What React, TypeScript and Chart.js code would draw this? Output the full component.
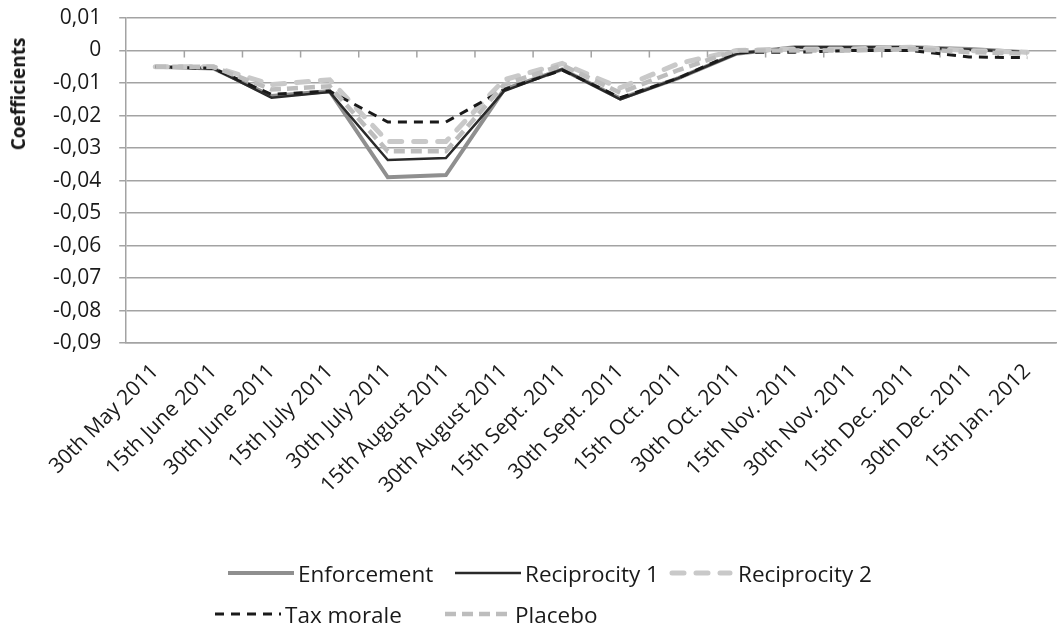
import React, { useEffect, useRef } from 'react';
import { Chart, registerables } from 'chart.js';

Chart.register(...registerables);

// ---- data ----
const categories = [
  '30th May 2011', '15th June 2011', '30th June 2011', '15th July 2011',
  '30th July 2011', '15th August 2011', '30th August 2011', '15th Sept. 2011',
  '30th Sept. 2011', '15th Oct. 2011', '30th Oct. 2011', '15th Nov. 2011',
  '30th Nov. 2011', '15th Dec. 2011', '30th Dec. 2011', '15th Jan. 2012',
];

const enforcement = [-0.005, -0.0055, -0.014, -0.0125, -0.039, -0.0383, -0.012, -0.0058, -0.0148, -0.0085, -0.001, 0.001, 0.001, 0.001, 0.0005, -0.0005];
const reciprocity1 = [-0.005, -0.0055, -0.0145, -0.0128, -0.0337, -0.0331, -0.0125, -0.0058, -0.015, -0.0085, -0.001, 0.001, 0.001, 0.001, 0.0003, -0.0005];
const reciprocity2 = [-0.005, -0.005, -0.0105, -0.009, -0.028, -0.028, -0.009, -0.004, -0.0115, -0.004, 0.0, 0.0005, 0.0005, 0.001, 0.0, -0.0005];
const taxMorale = [-0.005, -0.0055, -0.0135, -0.0125, -0.022, -0.022, -0.012, -0.006, -0.0145, -0.0085, -0.0005, -0.0005, 0.0, 0.0, -0.002, -0.0022];
const placebo = [-0.005, -0.005, -0.012, -0.011, -0.031, -0.031, -0.0105, -0.0045, -0.013, -0.006, 0.0, 0.0, 0.0, 0.0005, -0.0005, -0.001];

const seriesNames = ['Enforcement', 'Reciprocity 1', 'Reciprocity 2', 'Tax morale', 'Placebo'];
const seriesValues = [enforcement, reciprocity1, reciprocity2, taxMorale, placebo];

const yMin = -0.09;
const yMax = 0.01;
const yStep = 0.01;
const yTitle = 'Coefficients';

// ---- styles ----
const styles = [
  { color: '#8f8f8f', width: 4, dash: [] as number[], cap: 'butt' },
  { color: '#2a2a2a', width: 2.5, dash: [] as number[], cap: 'butt' },
  { color: '#c9c9c9', width: 5, dash: [12, 12], cap: 'round' },
  { color: '#1a1a1a', width: 3, dash: [9, 7], cap: 'butt' },
  { color: '#bdbdbd', width: 4.5, dash: [11, 6], cap: 'butt' },
];
const drawOrder = [5, 4, 3, 2, 1];

const FONT = '"Open Sans", "Noto Sans", sans-serif';
const GRID = '#a3a3a3';

const zeroTicksPlugin = {
  id: 'zeroTicks',
  beforeDatasetsDraw(chart: any) {
    const x = chart.scales.x;
    const y = chart.scales.y;
    const ctx = chart.ctx;
    const y0 = y.getPixelForValue(0);
    ctx.save();
    ctx.strokeStyle = GRID;
    ctx.lineWidth = 1.5;
    for (let i = 1; i < categories.length; i++) {
      const bx = (x.getPixelForValue(i - 1) + x.getPixelForValue(i)) / 2;
      ctx.beginPath();
      ctx.moveTo(bx, y0);
      ctx.lineTo(bx, y0 + 7);
      ctx.stroke();
    }
    ctx.restore();
  },
};

function fmt(v: number) {
  const r = Math.round(v * 100) / 100;
  if (r === 0) return '0';
  return r.toFixed(2).replace('.', ',');
}

function LegendSwatch({ s }: { s: any }) {
  const w = 66;
  return (
    <svg width={w} height={12} style={{ display: 'block' }}>
      <line
        x1={s.cap === 'round' ? 4 : 0}
        y1={6}
        x2={s.cap === 'round' ? w - 4 : w}
        y2={6}
        stroke={s.color}
        strokeWidth={s.width}
        strokeDasharray={s.dash.length ? s.dash.join(' ') : undefined}
        strokeLinecap={s.cap}
      />
    </svg>
  );
}

export default function App() {
  const ref = useRef<HTMLCanvasElement>(null);

  useEffect(() => {
    if (!ref.current) return;
    const chart = new Chart(ref.current, {
      type: 'line',
      data: {
        labels: categories,
        datasets: seriesNames.map((name, i) => ({
          label: name,
          data: seriesValues[i],
          borderColor: styles[i].color,
          backgroundColor: styles[i].color,
          borderWidth: styles[i].width,
          borderDash: styles[i].dash,
          borderCapStyle: styles[i].cap as any,
          borderJoinStyle: 'miter' as any,
          pointRadius: 0,
          tension: 0,
          fill: false,
          order: drawOrder[i],
        })),
      },
      options: {
        animation: false,
        responsive: false,
        maintainAspectRatio: false,
        layout: { padding: { left: 35, right: 0, top: 18, bottom: 120 } },
        plugins: {
          legend: { display: false },
          tooltip: { enabled: false },
        },
        scales: {
          x: {
            type: 'category',
            offset: true,
            grid: { display: false, drawTicks: false },
            border: { display: true, color: GRID, width: 1.5 },
            ticks: {
              minRotation: 45,
              maxRotation: 45,
              autoSkip: false,
              padding: 16,
              color: '#1a1a1a',
              font: { family: FONT, size: 21 },
            },
          },
          y: {
            min: yMin,
            max: yMax,
            grid: { color: GRID, lineWidth: 1.5, tickLength: 7 },
            border: { display: true, color: GRID, width: 1.5 },
            afterFit: (s: any) => {
              s.paddingTop = 0;
              s.paddingBottom = 0;
            },
            ticks: {
              stepSize: yStep,
              padding: 18,
              color: '#1a1a1a',
              font: { family: FONT, size: 21 },
              callback: (v: any) => fmt(Number(v)),
            },
          },
        },
      },
      plugins: [zeroTicksPlugin],
    });
    return () => chart.destroy();
  }, []);

  const legendItems = [
    { idx: 0, x: 228, y: 573 },
    { idx: 1, x: 455, y: 573 },
    { idx: 2, x: 668, y: 573 },
    { idx: 3, x: 215, y: 614 },
    { idx: 4, x: 445, y: 614 },
  ];

  return (
    <div style={{ position: 'absolute', left: 0, top: 0, width: 1061, height: 634, background: '#fff', overflow: 'hidden', fontFamily: FONT }}>
      <canvas ref={ref} width={1061} height={634} style={{ position: 'absolute', left: 0, top: 0 }} />
      <div
        style={{
          position: 'absolute',
          left: 18,
          top: 94,
          transform: 'translate(-50%, -50%) rotate(-90deg)',
          fontWeight: 700,
          fontSize: 19,
          color: '#1a1a1a',
          whiteSpace: 'nowrap',
        }}
      >
        {yTitle}
      </div>
      {legendItems.map((it) => (
        <div
          key={it.idx}
          style={{
            position: 'absolute',
            left: it.x,
            top: it.y - 15,
            height: 30,
            display: 'flex',
            alignItems: 'center',
            gap: 4,
            fontSize: 22.5,
            color: '#1a1a1a',
            whiteSpace: 'nowrap',
          }}
        >
          <LegendSwatch s={styles[it.idx]} />
          <span>{seriesNames[it.idx]}</span>
        </div>
      ))}
    </div>
  );
}
